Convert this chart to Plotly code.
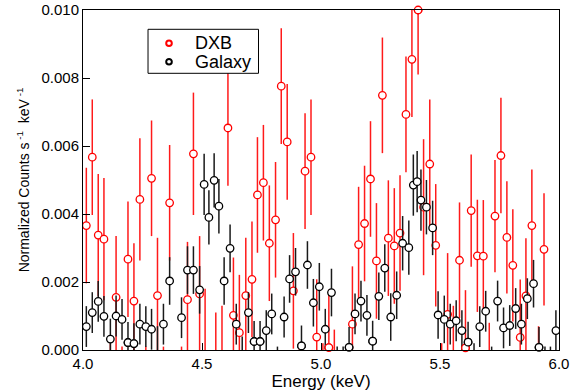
import plotly.graph_objects as go
import numpy as np

# ---------------- data ----------------
dxb_energy = [4.014, 4.039, 4.064, 4.088, 4.115, 4.139, 4.164, 4.189, 4.214, 4.239,
              4.264, 4.288, 4.313, 4.338, 4.364, 4.414, 4.439, 4.464, 4.490, 4.513,
              4.558, 4.584, 4.609, 4.632, 4.657, 4.684, 4.710, 4.733, 4.758, 4.783,
              4.809, 4.833, 4.858, 4.884, 4.909, 4.933, 4.958, 4.982, 5.008, 5.033,
              5.056, 5.107, 5.132, 5.158, 5.183, 5.208, 5.233, 5.258, 5.283, 5.308,
              5.332, 5.357, 5.382, 5.408, 5.431, 5.457, 5.482, 5.507, 5.532, 5.556,
              5.582, 5.607, 5.631, 5.657, 5.682, 5.707, 5.731, 5.756, 5.781, 5.806,
              5.837, 5.861, 5.886, 5.914, 5.937]
dxb_rate = [0.00366, 0.00567, 0.00338, 0.00326, -0.0008, 0.00155, -0.0009, 0.00267, 0.00144, 0.00443,
            -0.0009, 0.00505, 0.00160, -0.0010, 0.00433, -0.0010, 0.00148, 0.00577, 0.00165, -0.0003,
            -0.0007, -0.0005, 0.00653, 0.00102, 0.00051, 0.00160, 0.00208, 0.00456, 0.00492, 0.00314,
            0.00383, 0.00776, 0.00612, 0.00174, -0.0012, 0.00526, 0.00567, 0.00038, -0.0012, 0.00007,
            -0.0012, -0.0010, 0.00076, 0.00310, 0.00372, 0.00503, 0.00262, 0.00749, 0.00329, 0.00306,
            0.00344, 0.00693, 0.00855, 0.01000, 0.00420, 0.00547, 0.00308, -0.0012, 0.00105, -0.0004,
            0.00264, 0.00006, 0.00410, 0.00277, 0.00276, -0.0009, 0.00394, 0.00572, 0.00331, 0.00249,
            0.00037, 0.00159, 0.00366, -0.0010, 0.00296]
dxb_err = [0.0017, 0.0017, 0.0018, 0.0018, 0.0010, 0.0018, 0.0010, 0.0017, 0.0017, 0.0018,
           0.0010, 0.0017, 0.0017, 0.0011, 0.0017, 0.0011, 0.0017, 0.0018, 0.0017, 0.0021,
           0.0018, 0.0018, 0.0017, 0.0017, 0.0017, 0.0017, 0.0017, 0.0017, 0.0017, 0.0017,
           0.0017, 0.0017, 0.0017, 0.0017, 0.0013, 0.0017, 0.0017, 0.0017, 0.0014, 0.0017,
           0.0018, 0.0011, 0.0017, 0.0017, 0.0017, 0.0017, 0.0017, 0.0017, 0.0017, 0.0017,
           0.0017, 0.0017, 0.0017, 0.0019, 0.0020, 0.0019, 0.0018, 0.0014, 0.0018, 0.0017,
           0.0017, 0.0017, 0.00165, 0.00165, 0.00165, 0.0017, 0.00165, 0.0017, 0.00165, 0.00165,
           0.0017, 0.0017, 0.00165, 0.0017, 0.00165]

gal_energy = [4.014, 4.039, 4.064, 4.088, 4.115, 4.139, 4.164, 4.189, 4.214, 4.239,
              4.264, 4.288, 4.313, 4.338, 4.364, 4.414, 4.439, 4.464, 4.490, 4.509,
              4.529, 4.551, 4.571, 4.593, 4.618, 4.644, 4.669, 4.695, 4.719, 4.744,
              4.770, 4.793, 4.817, 4.845, 4.868, 4.893, 4.918, 4.943, 4.968, 4.993,
              5.018, 5.044, 5.068, 5.093, 5.118, 5.143, 5.168, 5.193, 5.217, 5.243,
              5.268, 5.293, 5.318, 5.343, 5.369, 5.388, 5.404, 5.420, 5.443, 5.469,
              5.492, 5.518, 5.543, 5.568, 5.592, 5.618, 5.643, 5.667, 5.692, 5.717,
              5.742, 5.767, 5.793, 5.818, 5.842, 5.867, 5.893, 5.916, 5.941, 5.964,
              5.987]
gal_rate = [0.00069, 0.00110, 0.00143, 0.00099, 0.00032, 0.00100, 0.00090, 0.00022, 0.00019, 0.00076,
            0.00069, 0.00061, -0.0002, 0.00076, 0.00203, 0.00095, 0.00235, 0.00235, 0.00177, 0.00487,
            0.00390, 0.00499, 0.00423, 0.00203, 0.00299, 0.00076, -0.0003, 0.00110, 0.00025, 0.00025,
            0.00057, 0.00106, -0.0005, 0.00097, 0.00209, 0.00230, 0.00012, 0.00250, 0.00139, 0.00186,
            0.00061, 0.00169, -0.0005, -0.0005, 0.00008, 0.00106, 0.00144, 0.00102, 0.00026, 0.00158,
            0.00241, 0.00097, 0.00161, 0.00314, 0.00301, 0.00485, 0.00495, 0.00441, 0.00420, 0.00359,
            0.00103, 0.00090, 0.00076, 0.00086, 0.00057, 0.00023, -0.0004, 0.00069, 0.00114, -0.0004,
            0.00144, 0.00065, 0.00072, 0.00122, 0.00076, 0.00151, 0.00195, 0.00008, -0.0004, -0.0004,
            0.00057]
gal_err = [0.0006, 0.0006, 0.0006, 0.0006, 0.0006, 0.0006, 0.0006, 0.0006, 0.0006, 0.0006,
           0.0006, 0.0006, 0.0009, 0.0006, 0.0007, 0.0006, 0.0007, 0.0007, 0.0007, 0.0009,
           0.0008, 0.0008, 0.0008, 0.0007, 0.0007, 0.0006, 0.0007, 0.0006, 0.0006, 0.0006,
           0.0006, 0.0006, 0.0006, 0.0006, 0.0007, 0.0007, 0.0006, 0.0007, 0.0007, 0.0007,
           0.0006, 0.0007, 0.0006, 0.0006, 0.0006, 0.0006, 0.0006, 0.0006, 0.0006, 0.0007,
           0.0007, 0.0007, 0.0007, 0.0008, 0.0008, 0.0009, 0.0009, 0.0009, 0.0008, 0.0008,
           0.0007, 0.0007, 0.0006, 0.0006, 0.0006, 0.0006, 0.0006, 0.0006, 0.0006, 0.0005,
           0.0006, 0.0006, 0.0006, 0.0006, 0.0006, 0.0006, 0.0007, 0.0006, 0.0005, 0.0005,
           0.0006]

x_tick_values = [4.0, 4.5, 5.0, 5.5, 6.0]
x_tick_labels = ["4.0", "4.5", "5.0", "5.5", "6.0"]
y_tick_values = [0.0, 0.002, 0.004, 0.006, 0.008, 0.010]
y_tick_labels = ["0.000", "0.002", "0.004", "0.006", "0.008", "0.010"]

series_names = ["DXB", "Galaxy"]
series_colors = ["#ff0000", "#000000"]
bar_colors = ["#ff1a1a", "#1a1a1a"]

Y_MAX = 0.010

fig = go.Figure()

series = [(dxb_energy, dxb_rate, dxb_err), (gal_energy, gal_rate, gal_err)]
for (ex, ey, ee), name, col, bcol in zip(series, series_names, series_colors, bar_colors):
    fig.add_trace(go.Scatter(
        x=ex, y=ey, mode="markers", name=name, showlegend=False,
        error_y=dict(type="data", array=ee, visible=True, color=bcol,
                     thickness=1.5, width=0),
        marker=dict(symbol="circle", size=7.5, color="white",
                    line=dict(color=col, width=1.3)),
        cliponaxis=True,
    ))

# markers touching the frame are drawn whole (not clipped), like the reference
for (ex, ey, ee), name, col in zip(series, series_names, series_colors):
    ex_a, ey_a = np.array(ex), np.array(ey)
    m = ((ey_a >= 0) & (ey_a < 0.0003)) | ((ey_a > Y_MAX - 0.0003) & (ey_a <= Y_MAX + 0.0001))
    fig.add_trace(go.Scatter(
        x=ex_a[m], y=ey_a[m], mode="markers", showlegend=False, hoverinfo="skip",
        marker=dict(symbol="circle", size=7.5, color="white",
                    line=dict(color=col, width=1.3)),
        cliponaxis=False,
    ))

# ---- hand-built legend box (paper coordinates of the plot area) ----
shapes = [dict(type="rect", xref="paper", yref="paper",
               x0=0.1366, x1=0.3687, y0=0.8138, y1=0.9432,
               line=dict(color="black", width=1), fillcolor="white", layer="above")]
annotations = []
legend_rows_y = [0.9021, 0.8479]
for name, col, ly in zip(series_names, series_colors, legend_rows_y):
    shapes.append(dict(type="circle", xref="paper", yref="paper",
                       xsizemode="pixel", ysizemode="pixel",
                       xanchor=0.1807, yanchor=ly, x0=-2.8, x1=2.8, y0=-2.8, y1=2.8,
                       line=dict(color=col, width=2), fillcolor="white", layer="above"))
    annotations.append(dict(xref="paper", yref="paper", x=0.2317, y=ly,
                            xanchor="left", yanchor="middle", showarrow=False,
                            text=name, font=dict(size=18, color="black")))

axis_common = dict(
    showgrid=False, zeroline=False, showline=True, linecolor="black",
    linewidth=1, mirror=True, ticks="inside", ticklen=7, tickwidth=1,
    tickcolor="black", automargin=False,
)

fig.update_layout(
    width=579, height=392,
    margin=dict(l=83, r=20, t=10, b=42),
    paper_bgcolor="white", plot_bgcolor="white",
    font=dict(family="Liberation Sans, Arial, sans-serif", color="black"),
    showlegend=False,
    shapes=shapes,
    annotations=annotations,
    xaxis=dict(
        range=[4.0, 6.0], tickvals=x_tick_values, ticktext=x_tick_labels,
        tickfont=dict(size=15),
        title=dict(text="Energy (keV)", font=dict(size=17), standoff=4),
        **axis_common,
    ),
    yaxis=dict(
        range=[0.0, Y_MAX], tickvals=y_tick_values, ticktext=y_tick_labels,
        tickfont=dict(size=15),
        title=dict(text="Normalized Counts s<sup> -1</sup>  keV<sup> -1</sup>",
                   font=dict(size=14), standoff=8),
        **axis_common,
    ),
)

fig.write_html("out.html")
